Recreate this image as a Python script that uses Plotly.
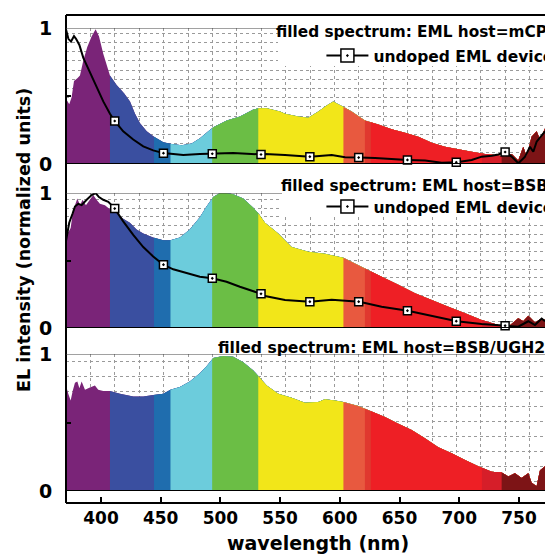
import numpy as np
import plotly.graph_objects as go

# ---------------- data ----------------
# spectral colour bands (nm) and their fill colours
band_edges = [370.7, 407.5, 444.4, 458.2, 493.1, 531.7, 603.0, 621.0, 626.0, 719.0, 735.5, 771.8]
band_colors = ['#7a2478', '#3a4fa0', '#1f6dae', '#6cccdc', '#6bbe45', '#f2e619',
               '#e8593f', '#e0382f', '#ee1f25', '#d61e29', '#7d1416']

# panel 1: EML host = mCP
wl_mcp = [370.7, 372.1, 373.4, 375.4, 377.4, 380.2, 382.4, 385.2, 388.5, 392.2, 395.5, 398.3,
          401.9, 407.5, 413.1, 419.3, 424.3, 428.5, 432.7, 438.3, 444.4, 452.2, 459.2, 467.6,
          476.0, 482.9, 489.9, 494.1, 505.3, 516.4, 527.6, 531.7, 538.7, 549.9, 554.1, 565.2,
          573.6, 582.0, 589.0, 594.5, 598.7, 602.9, 609.9, 621.0, 632.2, 643.4, 654.5, 665.7,
          676.9, 688.0, 699.2, 710.4, 721.5, 729.9, 738.3, 743.9, 749.4, 753.6, 756.4, 760.6,
          764.8, 767.6, 771.8]
el_mcp = [0.48, 0.46, 0.44, 0.49, 0.61, 0.63, 0.65, 0.76, 0.86, 0.94, 0.99, 0.94,
          0.81, 0.65, 0.58, 0.52, 0.46, 0.37, 0.30, 0.24, 0.20, 0.16, 0.147, 0.137,
          0.15, 0.19, 0.24, 0.27, 0.32, 0.35, 0.40, 0.41, 0.41, 0.385, 0.37, 0.35,
          0.34, 0.385, 0.43, 0.46, 0.44, 0.42, 0.385, 0.32, 0.29, 0.255, 0.23, 0.20,
          0.157, 0.127, 0.108, 0.09, 0.074, 0.066, 0.054, 0.074, 0.025, 0.127, 0.054, 0.20,
          0.24, 0.18, 0.26]

# panel 2: EML host = BSB
wl_bsb = [370.7, 372.6, 374.6, 376.3, 378.2, 380.2, 382.4, 384.6, 387.4, 390.7, 393.5, 396.3,
          399.1, 403.3, 407.5, 413.1, 418.6, 424.2, 429.8, 435.4, 443.7, 452.1, 458.2, 466.1,
          474.4, 482.8, 488.4, 494.0, 499.6, 505.0, 510.7, 519.1, 527.5, 531.7, 537.3, 548.4,
          559.6, 573.6, 587.5, 602.9, 621.0, 635.0, 648.9, 662.9, 676.9, 690.8, 704.8, 718.7,
          732.7, 741.1, 749.4, 753.6, 757.8, 763.4, 769.0, 771.8]
el_bsb = [0.74, 0.71, 0.74, 0.85, 0.91, 0.96, 0.91, 0.95, 0.91, 0.95, 0.985, 0.95,
          0.92, 0.91, 0.88, 0.85, 0.81, 0.78, 0.73, 0.70, 0.67, 0.65, 0.65, 0.67,
          0.73, 0.82, 0.90, 0.97, 1.0, 1.0, 0.99, 0.96, 0.89, 0.85, 0.78, 0.70,
          0.60, 0.565, 0.55, 0.52, 0.44, 0.38, 0.32, 0.257, 0.207, 0.158, 0.109, 0.06,
          0.022, 0.01, 0.072, 0.05, 0.09, 0.04, 0.07, 0.06]

# panel 3: EML host = BSB/UGH2
wl_ugh = [370.7, 372.6, 374.6, 376.3, 378.2, 380.2, 381.9, 383.8, 386.6, 390.7, 394.9, 397.7,
          401.9, 407.5, 415.9, 427.1, 435.4, 443.7, 452.1, 458.2, 466.1, 474.4, 482.8, 488.4,
          494.0, 502.3, 510.7, 519.1, 527.5, 531.7, 538.7, 548.4, 559.6, 570.8, 581.9, 587.5,
          595.9, 602.9, 615.4, 626.6, 637.7, 648.9, 660.1, 671.2, 682.4, 693.6, 704.8, 715.9,
          727.1, 735.5, 741.1, 746.6, 752.2, 757.8, 760.6, 764.8, 767.6, 771.8]
el_ugh = [0.77, 0.71, 0.66, 0.73, 0.79, 0.80, 0.75, 0.80, 0.74, 0.755, 0.77, 0.74,
          0.73, 0.73, 0.71, 0.69, 0.69, 0.70, 0.71, 0.74, 0.76, 0.80, 0.86, 0.91,
          0.97, 0.985, 0.98, 0.94, 0.88, 0.84, 0.77, 0.71, 0.68, 0.645, 0.65, 0.67,
          0.66, 0.65, 0.62, 0.58, 0.54, 0.49, 0.445, 0.385, 0.32, 0.275, 0.226, 0.18,
          0.14, 0.135, 0.105, 0.13, 0.095, 0.13, 0.06, 0.035, 0.15, 0.18]

# undoped EML device (black line) in panel 1
wl_und1 = [370.4, 371.3, 372.7, 374.9, 377.4, 379.1, 381.9, 385.2, 390.8, 396.4, 401.9, 407.5,
           411.1, 418.6, 427.0, 435.4, 443.7, 452.1, 468.9, 482.8, 493.1, 510.7, 534.4, 537.3,
           554.1, 575.0, 593.2, 604.4, 616.4, 629.5, 656.9, 671.4, 685.3, 697.9, 710.4, 718.8,
           727.2, 732.8, 738.9, 743.9, 749.5, 755.1, 759.2, 762.0, 764.8, 769.0, 771.8]
el_und1 = [1.0, 0.97, 0.92, 0.90, 0.94, 0.92, 0.875, 0.78, 0.67, 0.56, 0.46, 0.37,
           0.32, 0.24, 0.18, 0.13, 0.10, 0.08, 0.066, 0.073, 0.075, 0.08, 0.07, 0.073,
           0.066, 0.054, 0.066, 0.05, 0.047, 0.044, 0.03, 0.025, 0.01, 0.012, 0.03, 0.054,
           0.06, 0.07, 0.09, 0.054, 0.005, 0.054, 0.127, 0.09, 0.164, 0.21, 0.24]

# undoped EML device (black line) in panel 2
wl_und2 = [370.4, 373.4, 376.3, 378.2, 381.0, 383.8, 388.0, 392.2, 395.5, 398.3, 401.9, 406.1,
           411.1, 418.6, 427.0, 435.4, 443.7, 452.1, 460.5, 471.6, 482.8, 493.1, 505.1, 516.3,
           534.4, 537.3, 554.1, 575.0, 593.2, 616.4, 635.0, 656.9, 676.9, 697.9, 718.7, 738.9,
           749.4, 757.8, 763.4, 769.0, 771.8]
el_und2 = [0.63, 0.78, 0.85, 0.90, 0.92, 0.91, 0.95, 0.985, 1.0, 0.97, 0.95, 0.935,
           0.89, 0.79, 0.69, 0.60, 0.53, 0.47, 0.435, 0.405, 0.38, 0.368, 0.343, 0.306,
           0.252, 0.237, 0.207, 0.195, 0.21, 0.195, 0.158, 0.128, 0.089, 0.05, 0.03, 0.017,
           0.01, 0.05, 0.022, 0.07, 0.05]

# wavelengths where the square symbols sit
marker_wl = [370.6, 411.5, 452.3, 493.2, 534.0, 574.9, 615.8, 656.6, 697.5, 738.4]

x_ticks = [400, 450, 500, 550, 600, 650, 700, 750]
y_ticks = [0, 0.5, 1]
y_labels = {0: '0', 1: '1'}
panel_labels = ['filled spectrum: EML host=mCP',
                'filled spectrum: EML host=BSB',
                'filled spectrum: EML host=BSB/UGH2']
undoped_label = 'undoped EML device'

# ---------------- figure ----------------
X_RANGE = [370.7, 771.8]
FONT = 'DejaVu Sans'
fig = go.Figure()

panels = [(wl_mcp, el_mcp, 'x', 'y'), (wl_bsb, el_bsb, 'x2', 'y2'), (wl_ugh, el_ugh, 'x3', 'y3')]
for wl, el, xa, ya in panels:
    wl_a = np.array(wl)
    el_a = np.array(el)
    end = band_edges[-1]
    for i, col in enumerate(band_colors):
        start = band_edges[i]
        inner = wl_a[(wl_a > start) & (wl_a < end)]
        xs = np.concatenate([[start], inner, [end]])
        ys = np.interp(xs, wl_a, el_a)
        fig.add_trace(go.Scatter(x=xs, y=ys, mode='none', fill='tozeroy', fillcolor=col,
                                 xaxis=xa, yaxis=ya, showlegend=False, hoverinfo='skip'))

und = [(wl_und1, el_und1, 'x', 'y', 'legend'), (wl_und2, el_und2, 'x2', 'y2', 'legend2')]
for wl, el, xa, ya, lg in und:
    fig.add_trace(go.Scatter(x=wl, y=el, mode='lines', line=dict(color='black', width=2),
                             xaxis=xa, yaxis=ya, showlegend=False, hoverinfo='skip'))
    my = np.interp(marker_wl, wl, el)
    fig.add_trace(go.Scatter(x=marker_wl, y=my, mode='markers', cliponaxis=False,
                             marker=dict(symbol='square-dot', size=8, color='white',
                                         line=dict(color='black', width=1.5)),
                             xaxis=xa, yaxis=ya, showlegend=False, hoverinfo='skip'))
    fig.add_trace(go.Scatter(x=[None], y=[None], mode='lines+markers', name=undoped_label,
                             line=dict(color='black', width=2),
                             marker=dict(symbol='square-dot', size=13, color='white',
                                         line=dict(color='black', width=1.5)),
                             xaxis=xa, yaxis=ya, showlegend=True, legend=lg))

# domains (paper) of the three panels
doms = [[0.6947, 0.9734], [0.3586, 0.6352], [0.0246, 0.3053]]
ygrid = [(0.961, 0.0676), (0.953, 0.0645), (0.944, 0.1095)]

gridcol = '#9a9a9a'
for k in range(3):
    sfx = '' if k == 0 else str(k + 1)
    xa = dict(range=X_RANGE, showgrid=False, zeroline=False, showline=False,
              minor=dict(tick0=X_RANGE[0], dtick=(X_RANGE[1] - X_RANGE[0]) / 19.63,
                         showgrid=True, gridcolor=gridcol, griddash='dot', gridwidth=1),
              anchor='y' + sfx, showticklabels=False, ticks='')
    if k == 2:
        xa.update(anchor='free', position=0, showline=True, linecolor='black', linewidth=2,
                  tickvals=x_ticks, ticktext=[str(v) for v in x_ticks], showticklabels=True,
                  ticks='inside', ticklen=5, tickwidth=2, tickcolor='black',
                  tickfont=dict(family=FONT, size=17, color='black', weight='bold'))
    fig.layout['xaxis' + sfx] = xa
    t0, dt = ygrid[k]
    fig.layout['yaxis' + sfx] = dict(
        domain=doms[k], range=[0, 1], anchor='x' + sfx, showgrid=False, zeroline=False,
        showline=False, tickvals=y_ticks, showticklabels=False,
        ticks='inside', ticklen=5, tickwidth=2, tickcolor='black',
        minor=dict(tick0=t0, dtick=dt, showgrid=True, gridcolor=gridcol, griddash='dot',
                   gridwidth=1))

PH = 488.0   # plot-area height in px
PW = 479.0   # plot-area width in px
shapes = [
    # white backdrops behind the legend blocks of the two upper panels
    dict(type='rect', xref='paper', yref='paper', x0=(278 - 66) / PW, x1=1.0,
         y0=(503 - 66) / PH, y1=(503 - 17) / PH, fillcolor='white', line=dict(width=0)),
    dict(type='rect', xref='paper', yref='paper', x0=(282 - 66) / PW, x1=1.0,
         y0=(503 - 217) / PH, y1=(503 - 168) / PH, fillcolor='white', line=dict(width=0)),
    dict(type='line', xref='paper', yref='paper', x0=0, x1=0, y0=0, y1=1,
         line=dict(color='black', width=2)),
    dict(type='line', xref='paper', yref='paper', x0=0, x1=1, y0=1, y1=1,
         line=dict(color='black', width=2)),
]
for k in range(3):
    yr = 'y' if k == 0 else 'y' + str(k + 1)
    x1 = 1 if k == 2 else [(278 - 66) / PW, (282 - 66) / PW][k]
    shapes.append(dict(type='line', xref='paper', yref=yr, x0=0, x1=x1, y0=1, y1=1,
                       line=dict(color='#444444', width=1.2)))
    shapes.append(dict(type='line', xref='paper', yref=yr, x0=0, x1=1, y0=0, y1=0,
                       line=dict(color='black', width=2)))

annotations = []
# y tick labels ("0" / "1") of each panel, placed through each panel's y scale
for k in range(3):
    yr = 'y' if k == 0 else 'y' + str(k + 1)
    for val, lab in y_labels.items():
        annotations.append(dict(text=lab, xref='paper', yref=yr, x=0, y=val,
                                xanchor='right', yanchor='middle', xshift=-12,
                                showarrow=False,
                                font=dict(family=FONT, size=19, color='black', weight='bold')))

ann_y = [0.965, 0.6496, 0.3176]
ann_x = [(549 - 66) / PW, (550 - 66) / PW, (547 - 66) / PW]
ann_size = [15.3, 15.3, 15.6]
for txt, xx, yy, fs in zip(panel_labels, ann_x, ann_y, ann_size):
    annotations.append(dict(text=txt, xref='paper', yref='paper', x=xx, y=yy,
                            xanchor='right', yanchor='middle', showarrow=False,
                            font=dict(family=FONT, size=fs, color='black', weight='bold')))
annotations.append(dict(text='wavelength (nm)', xref='paper', yref='paper', x=0.526, y=-0.082,
                        xanchor='center', yanchor='middle', showarrow=False,
                        font=dict(family=FONT, size=19, color='black', weight='bold')))
annotations.append(dict(text='EL intensity (normalized units)', xref='paper', yref='paper',
                        x=-0.0877, y=0.539, textangle=-90, xanchor='center', yanchor='middle',
                        showarrow=False,
                        font=dict(family=FONT, size=17.5, color='black', weight='bold')))

leg = dict(xref='paper', yref='paper', xanchor='right', yanchor='middle',
           bgcolor='rgba(255,255,255,0)', borderwidth=0,
           font=dict(family=FONT, size=15.5, color='black', weight='bold'),
           itemwidth=42, tracegroupgap=0)

fig.update_layout(
    width=545, height=556,
    margin=dict(l=66, r=0, t=15, b=53, autoexpand=False),
    paper_bgcolor='white', plot_bgcolor='white',
    shapes=shapes, annotations=annotations,
    legend=dict(leg, x=1.028, y=0.916),
    legend2=dict(leg, x=1.028, y=0.6066),
    font=dict(family=FONT, color='black'),
    hovermode=False, dragmode=False,
)

fig.write_html('out.html', config={'displayModeBar': False, 'staticPlot': True},
               post_script="document.body.style.margin='0';")
